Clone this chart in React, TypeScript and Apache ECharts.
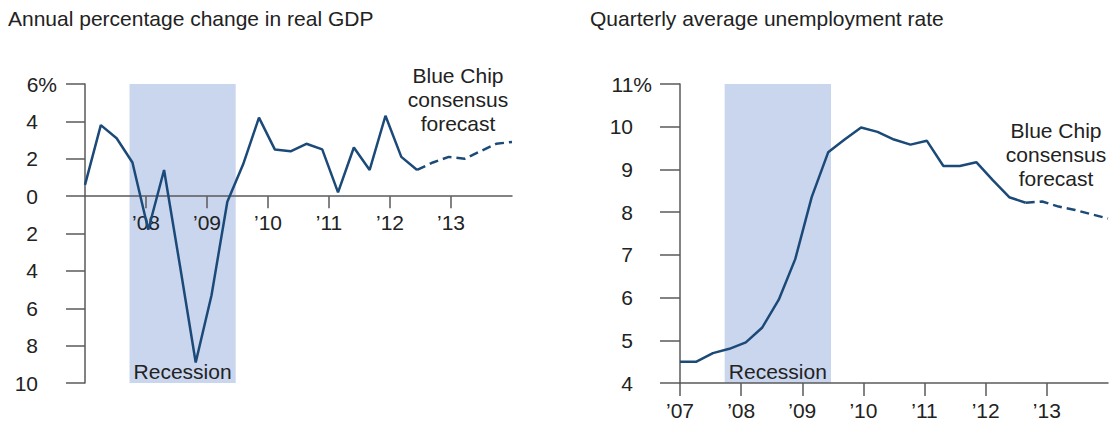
import React, { useEffect, useRef } from "react";
import * as echarts from "echarts";

// ---- data ----
const quarters = [
  "2007Q1", "2007Q2", "2007Q3", "2007Q4",
  "2008Q1", "2008Q2", "2008Q3", "2008Q4",
  "2009Q1", "2009Q2", "2009Q3", "2009Q4",
  "2010Q1", "2010Q2", "2010Q3", "2010Q4",
  "2011Q1", "2011Q2", "2011Q3", "2011Q4",
  "2012Q1", "2012Q2", "2012Q3", "2012Q4",
  "2013Q1", "2013Q2", "2013Q3", "2013Q4",
];
const unempQuarters = quarters.slice(0, 27);

// Real GDP, annualized % change (2007Q1–2012Q2 actual)
const gdpActual = [0.6, 3.8, 3.1, 1.8, -1.8, 1.4, -3.7, -8.9, -5.3, -0.3, 1.7, 4.2, 2.5, 2.4, 2.8, 2.5, 0.2, 2.6, 1.4, 4.3, 2.1, 1.4];
// Blue Chip forecast (from 2012Q2 to 2013Q4)
const gdpForecast = [1.4, 1.8, 2.1, 2.0, 2.4, 2.8, 2.9];

// Unemployment rate, quarterly average (2007Q1–2012Q2 actual)
const unempActual = [4.5, 4.5, 4.7, 4.8, 4.95, 5.3, 5.95, 6.9, 8.35, 9.4, 9.7, 9.98, 9.88, 9.7, 9.58, 9.67, 9.08, 9.08, 9.17, 8.75, 8.35, 8.22];
// Blue Chip forecast (from 2012Q2 to 2013Q3)
const unempForecast = [8.22, 8.25, 8.13, 8.05, 7.95, 7.85];

const recession = [2007.73, 2009.47];
const gdpYearTicks = [2008, 2009, 2010, 2011, 2012, 2013];
const unempYearTicks = [2007, 2008, 2009, 2010, 2011, 2012, 2013];

const titles = ["Annual percentage change in real GDP", "Quarterly average unemployment rate"];
const forecastNote = "Blue Chip\nconsensus\nforecast";
const recessionLabel = "Recession";

// ---- style ----
const FONT = '"Liberation Sans", Arial, Helvetica, sans-serif';
const FS = 21;
const LINE = "#1c4a78";
const SHADE = "#c9d6ee";
const AXIS = "#5a5a5a";
const TEXT = "#222";

function padSeries(values: number[], start: number, total: number) {
  const out: (number | null)[] = [];
  for (let i = 0; i < total; i++) {
    const j = i - start;
    out.push(j >= 0 && j < values.length ? values[j] : null);
  }
  return out;
}

function yLabel(max: number) {
  return {
    margin: 28,
    formatter: (v: number) => (v === max ? `{p|${Math.abs(v)}%}` : `{d|${Math.abs(v)}}`),
    rich: {
      d: { fontSize: FS, color: TEXT, fontFamily: FONT, padding: [0, 19, 0, 0] },
      p: { fontSize: FS, color: TEXT, fontFamily: FONT },
    },
  };
}

export default function App() {
  const ref = useRef<HTMLDivElement>(null);

  useEffect(() => {
    if (!ref.current) return;
    const chart = echarts.init(ref.current, undefined, { renderer: "svg" });

    const axisLineStyle = { color: AXIS, width: 1.5 };
    const yearFmt = (v: number) => "\u2019" + String(v).slice(2);

    const option: any = {
      animation: false,
      textStyle: { fontFamily: FONT },
      title: [
        { text: titles[0], left: 8, top: 8, padding: 0, textStyle: { fontSize: FS, fontWeight: "normal", color: TEXT, fontFamily: FONT } },
        { text: titles[1], left: 590, top: 8, padding: 0, textStyle: { fontSize: FS, fontWeight: "normal", color: TEXT, fontFamily: FONT } },
      ],
      grid: [
        { left: 85, top: 84, width: 427, height: 299 },
        { left: 680, top: 84, width: 428, height: 299 },
      ],
      xAxis: [
        { type: "category", gridIndex: 0, position: "bottom", data: quarters, boundaryGap: false, show: false, axisLine: { onZero: false } },
        {
          type: "value", gridIndex: 0, position: "bottom", min: 2007, max: 2014, interval: 1, z: 2,
          axisLine: { show: true, onZero: true, onZeroAxisIndex: 0, lineStyle: axisLineStyle },
          axisTick: { show: true, length: 12, customValues: gdpYearTicks, lineStyle: axisLineStyle },
          axisLabel: { show: false },
          splitLine: { show: false },
        },
        { type: "category", gridIndex: 1, position: "bottom", data: unempQuarters, boundaryGap: false, show: false, axisLine: { onZero: false } },
        {
          type: "value", gridIndex: 1, position: "bottom", min: 2007, max: 2014, interval: 1, z: 2,
          axisLine: { show: true, onZero: false, lineStyle: axisLineStyle },
          axisTick: { show: true, length: 13, customValues: unempYearTicks, lineStyle: axisLineStyle },
          axisLabel: { customValues: unempYearTicks, margin: 17, fontSize: FS, color: TEXT, fontFamily: FONT, formatter: yearFmt },
          splitLine: { show: false },
        },
        {
          // year labels of the GDP panel, sitting under the zero line
          type: "value", gridIndex: 0, position: "bottom", offset: -186, min: 2007, max: 2014, interval: 1, z: 2,
          axisLine: { show: false, onZero: false },
          axisTick: { show: false },
          axisLabel: { customValues: gdpYearTicks, margin: 15, fontSize: FS, color: TEXT, fontFamily: FONT, formatter: yearFmt },
          splitLine: { show: false },
        },
      ],
      yAxis: [
        {
          type: "value", gridIndex: 0, min: -10, max: 6, interval: 2, z: 2,
          axisLine: { show: true, onZero: false, lineStyle: axisLineStyle },
          axisTick: { show: true, length: 19, lineStyle: axisLineStyle },
          axisLabel: yLabel(6),
          splitLine: { show: false },
        },
        {
          type: "value", gridIndex: 1, min: 4, max: 11, interval: 1, z: 2,
          axisLine: { show: true, onZero: false, lineStyle: axisLineStyle },
          axisTick: { show: true, length: 20, lineStyle: axisLineStyle },
          axisLabel: yLabel(11),
          splitLine: { show: false },
        },
      ],
      series: [
        {
          type: "line", xAxisIndex: 1, yAxisIndex: 0, data: [], z: 1, silent: true,
          markArea: {
            silent: true,
            itemStyle: { color: SHADE },
            label: { show: true, position: "insideBottom", distance: 1, color: TEXT, fontSize: FS, fontFamily: FONT },
            data: [[{ xAxis: recession[0], name: recessionLabel }, { xAxis: recession[1] }]],
          },
        },
        {
          type: "line", xAxisIndex: 3, yAxisIndex: 1, data: [], z: 1, silent: true,
          markArea: {
            silent: true,
            itemStyle: { color: SHADE },
            label: { show: true, position: "insideBottom", distance: 1, color: TEXT, fontSize: FS, fontFamily: FONT },
            data: [[{ xAxis: recession[0], name: recessionLabel }, { xAxis: recession[1] }]],
          },
        },
        {
          type: "line", xAxisIndex: 0, yAxisIndex: 0, z: 3,
          data: padSeries(gdpActual, 0, quarters.length),
          symbol: "none", lineStyle: { color: LINE, width: 2.5 },
        },
        {
          type: "line", xAxisIndex: 0, yAxisIndex: 0, z: 3,
          data: padSeries(gdpForecast, gdpActual.length - 1, quarters.length),
          symbol: "none", lineStyle: { color: LINE, width: 2.5, type: [9, 5] },
        },
        {
          type: "line", xAxisIndex: 2, yAxisIndex: 1, z: 3,
          data: padSeries(unempActual, 0, unempQuarters.length),
          symbol: "none", lineStyle: { color: LINE, width: 2.5 },
        },
        {
          type: "line", xAxisIndex: 2, yAxisIndex: 1, z: 3,
          data: padSeries(unempForecast, unempActual.length - 1, unempQuarters.length),
          symbol: "none", lineStyle: { color: LINE, width: 2.5, type: [9, 5] },
        },
      ],
      graphic: [
        {
          type: "text", x: 458, y: 63,
          style: { text: forecastNote, align: "center", verticalAlign: "top", fontSize: FS, fontFamily: FONT, lineHeight: 24, fill: TEXT },
        },
        {
          type: "text", x: 1056, y: 118,
          style: { text: forecastNote, align: "center", verticalAlign: "top", fontSize: FS, fontFamily: FONT, lineHeight: 24, fill: TEXT },
        },
      ],
    };

    chart.setOption(option);
    return () => chart.dispose();
  }, []);

  return (
    <div
      ref={ref}
      style={{ position: "fixed", left: 0, top: 0, width: 1118, height: 424, background: "#fff" }}
    />
  );
}
